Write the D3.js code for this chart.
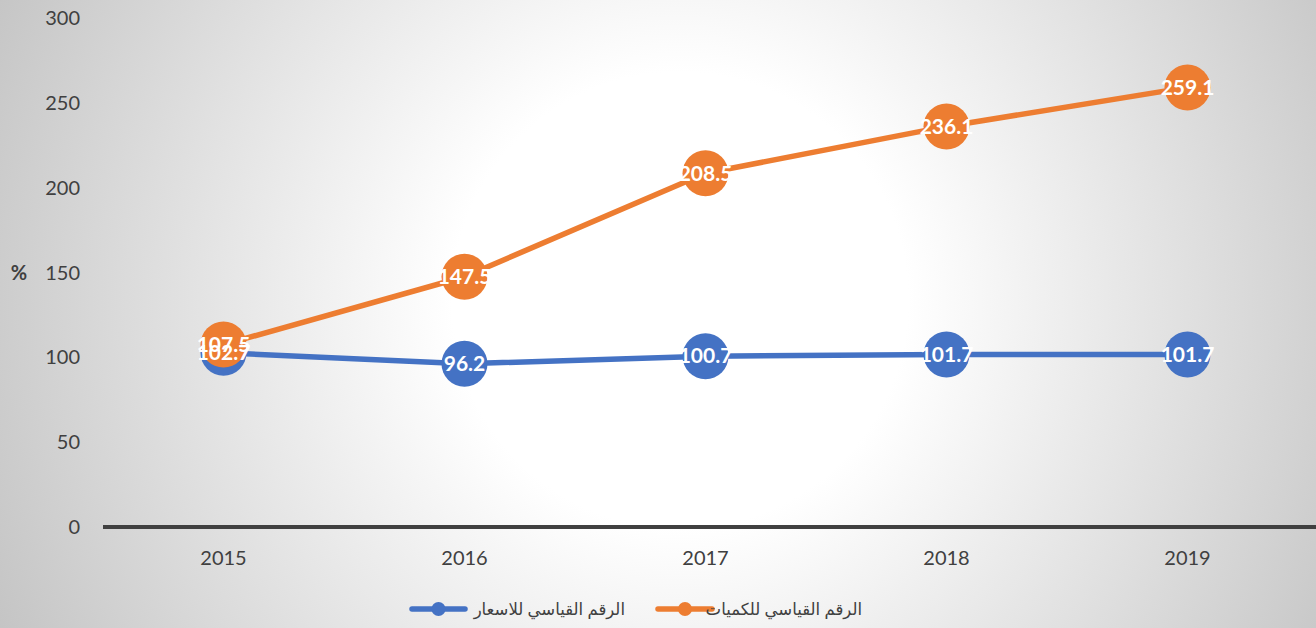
<!DOCTYPE html>
<html><head><meta charset="utf-8">
<script src="https://cdn.jsdelivr.net/npm/d3@7/dist/d3.min.js"></script>
<style>html,body{margin:0;padding:0;overflow:hidden;}svg{display:block;}</style>
</head><body>
<svg id="c" width="1316" height="628"></svg>
<script>
const years = ["2015","2016","2017","2018","2019"];
const priceIndex = [102.7, 96.2, 100.7, 101.7, 101.7];
const quantityIndex = [107.5, 147.5, 208.5, 236.1, 259.1];
const yTicks = [0, 50, 100, 150, 200, 250, 300];
const seriesNames = ["الرقم القياسي للاسعار", "الرقم القياسي للكميات"];
const colors = ["#4472C4", "#ED7D31"];

const W = 1316, H = 628;
const svg = d3.select("#c");
const defs = svg.append("defs");
const g = defs.append("radialGradient").attr("id","bg").attr("gradientUnits","userSpaceOnUse")
  .attr("cx",680).attr("cy",300).attr("r",760);
g.append("stop").attr("offset",0).attr("stop-color","#ffffff");
g.append("stop").attr("offset",0.3).attr("stop-color","#ffffff");
g.append("stop").attr("offset",1).attr("stop-color","#c4c4c4");
svg.append("rect").attr("width",W).attr("height",H).attr("fill","url(#bg)");

const x = d3.scaleBand().domain(years).range([103, 1308]);
const y = d3.scaleLinear().domain([0, 300]).range([527, 18]);
const font = "Lato, 'Open Sans', sans-serif";

// y tick labels
svg.append("g").selectAll("text").data(yTicks).join("text")
  .attr("x", 80).attr("y", d => y(d)).attr("dy","0.35em")
  .attr("text-anchor","end").attr("font-family",font).attr("font-size",20)
  .attr("fill","#404040").text(d => d);

// % label
svg.append("text").attr("x",19).attr("y",y(150)).attr("dy","0.35em")
  .attr("text-anchor","middle").attr("font-family",font).attr("font-size",20)
  .attr("font-weight","bold").attr("fill","#404040").text("%");

// x axis
svg.append("line").attr("x1",103).attr("x2",1316).attr("y1",y(0)).attr("y2",y(0))
  .attr("stroke","#404040").attr("stroke-width",4);
svg.append("g").selectAll("text").data(years).join("text")
  .attr("x", d => x(d) + x.bandwidth()/2).attr("y", 558).attr("dy","0.35em")
  .attr("text-anchor","middle").attr("font-family",font).attr("font-size",20)
  .attr("fill","#404040").text(d => d);

const cx = (d,i) => x(years[i]) + x.bandwidth()/2;
const line = d3.line().x((d,i)=>cx(d,i)).y(d=>y(d));
const series = [priceIndex, quantityIndex];

series.forEach((s, k) => {
  svg.append("path").attr("d", line(s)).attr("fill","none")
    .attr("stroke", colors[k]).attr("stroke-width",5.5).attr("stroke-linejoin","round");
  svg.append("g").selectAll("circle").data(s).join("circle")
    .attr("cx", cx).attr("cy", d => y(d)).attr("r", 23).attr("fill", colors[k]);
});
series.forEach((s, k) => {
  svg.append("g").selectAll("text").data(s).join("text")
    .attr("x", cx).attr("y", d => y(d)).attr("dy","0.35em")
    .attr("text-anchor","middle").attr("font-family",font).attr("font-size",21)
    .attr("font-weight","bold").attr("fill","#ffffff").text(d => d.toFixed(1));
});

// legend
const legItems = [
  {name: seriesNames[0], color: colors[0], x1: 412, x2: 465, tx: 625},
  {name: seriesNames[1], color: colors[1], x1: 658, x2: 712, tx: 862}
];
const ly = 609;
legItems.forEach(it => {
  svg.append("line").attr("x1",it.x1).attr("x2",it.x2).attr("y1",ly).attr("y2",ly)
    .attr("stroke",it.color).attr("stroke-width",5.5).attr("stroke-linecap","round");
  svg.append("circle").attr("cx",(it.x1+it.x2)/2).attr("cy",ly).attr("r",7).attr("fill",it.color);
  svg.append("text").attr("x",it.tx).attr("y",ly).attr("dy","0.35em")
    .attr("text-anchor","end").attr("font-family","'Noto Sans', 'DejaVu Sans', sans-serif")
    .attr("font-size",16.5).attr("fill","#404040").text(it.name);
});
</script>
</body></html>
